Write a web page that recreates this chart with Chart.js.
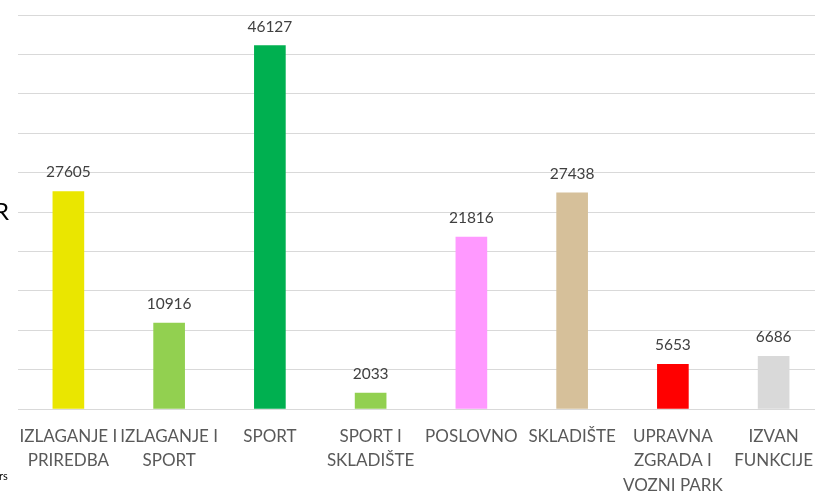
<!DOCTYPE html>
<html>
<head>
<meta charset="utf-8">
<script src="https://cdn.jsdelivr.net/npm/chart.js@4/dist/chart.umd.min.js"></script>
<style>
  html, body { margin: 0; padding: 0; background: #fff; overflow: hidden; width: 815px; height: 493px; }
  #wrap { position: relative; width: 815px; height: 493px; overflow: hidden; }
  canvas { position: absolute; left: 0; top: 0; }
  .txt { position: absolute; font-family: Lato, "Open Sans", sans-serif; color: #000; white-space: nowrap; }
</style>
</head>
<body>
<div id="wrap">
  <canvas id="c" width="828" height="493"></canvas>
  <div class="txt" style="left:-6px; top:196px; font-size:24px;">R</div>
  <div class="txt" style="left:-1px; top:469px; font-size:11px;">rs</div>
</div>
<script>
const categories = [
  ["IZLAGANJE I", "PRIREDBA"],
  ["IZLAGANJE I", "SPORT"],
  ["SPORT"],
  ["SPORT I", "SKLADIŠTE"],
  ["POSLOVNO"],
  ["SKLADIŠTE"],
  ["UPRAVNA", "ZGRADA I", "VOZNI PARK"],
  ["IZVAN", "FUNKCIJE"]
];
const values = [27605, 10916, 46127, 2033, 21816, 27438, 5653, 6686];
const barColors = ["#EAE600", "#92D050", "#00B050", "#92D050", "#FF99FF", "#D6C09A", "#FF0000", "#D9D9D9"];
const yTicks = { min: 0, max: 50000, step: 5000 };

const valueLabels = {
  id: 'valueLabels',
  afterDatasetsDraw(chart) {
    const ctx = chart.ctx;
    const meta = chart.getDatasetMeta(0);
    ctx.save();
    ctx.font = '15.5px Lato, "Open Sans", sans-serif';
    ctx.fillStyle = '#404040';
    ctx.textAlign = 'center';
    ctx.textBaseline = 'middle';
    meta.data.forEach((bar, i) => {
      ctx.fillText(String(values[i]), bar.x, bar.y - 19);
    });
    ctx.restore();
  }
};

new Chart(document.getElementById('c'), {
  type: 'bar',
  data: {
    labels: categories,
    datasets: [{
      data: values,
      backgroundColor: barColors,
      borderWidth: 0,
      barThickness: 31
    }]
  },
  options: {
    responsive: false,
    animation: false,
    layout: { padding: { top: 15, left: 0, right: 0, bottom: 0 } },
    plugins: { legend: { display: false }, tooltip: { enabled: false } },
    scales: {
      x: {
        grid: { display: false, drawTicks: false },
        border: { display: true, color: '#D9D9D9', width: 1 },
        ticks: {
          autoSkip: false,
          maxRotation: 0,
          minRotation: 0,
          padding: 15,
          color: '#595959',
          font: { family: 'Lato, "Open Sans", sans-serif', size: 17, lineHeight: 1.44 }
        },
        afterFit(scale) { scale.height = 84; }
      },
      y: {
        min: yTicks.min,
        max: yTicks.max,
        ticks: { stepSize: yTicks.step, display: false },
        grid: { color: '#D9D9D9', lineWidth: 1, drawTicks: false },
        border: { display: false },
        afterFit(scale) { scale.width = 18; }
      }
    }
  },
  plugins: [valueLabels]
});
</script>
</body>
</html>
